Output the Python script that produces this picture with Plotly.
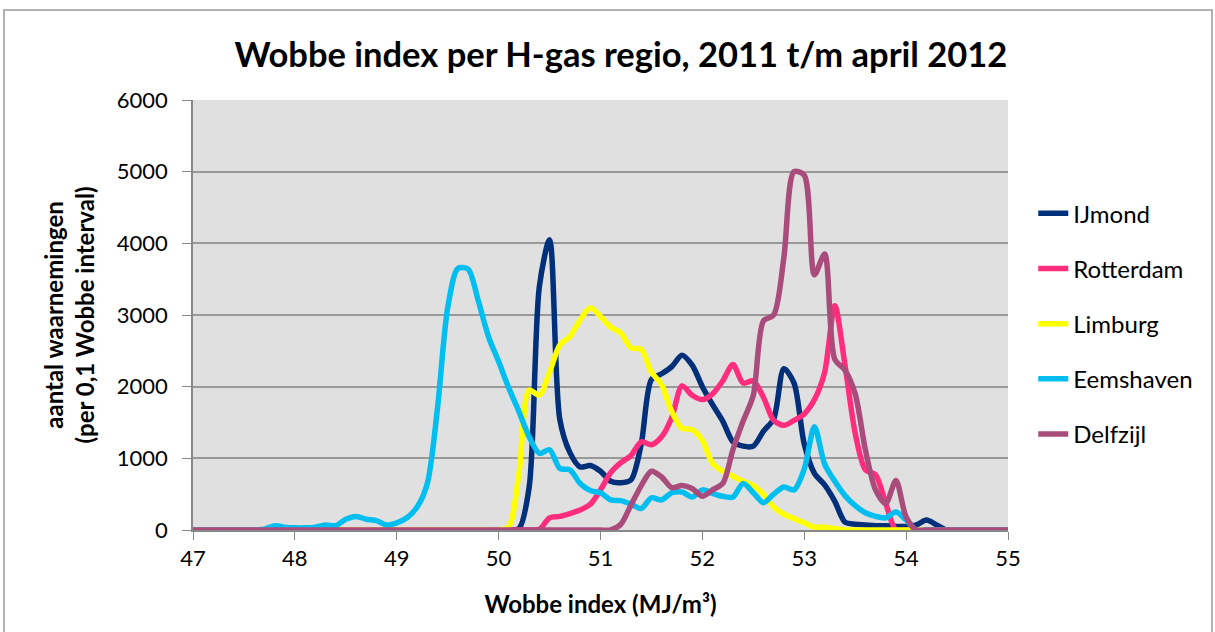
import plotly.graph_objects as go

x_wobbe = [round(47 + 0.1 * i, 1) for i in range(81)]

def series(points):
    d = dict(points)
    return [d.get(x, 0) for x in x_wobbe]

ijmond = series([
    (50.2, 20), (50.3, 600), (50.4, 3400), (50.5, 4050), (50.6, 1550), (50.7, 1080),
    (50.8, 880), (50.9, 900), (51.0, 820), (51.1, 680), (51.2, 660), (51.3, 700),
    (51.4, 1200), (51.5, 2100), (51.6, 2180), (51.7, 2280), (51.8, 2440), (51.9, 2300),
    (52.0, 2000), (52.1, 1750), (52.2, 1520), (52.3, 1230), (52.4, 1170), (52.5, 1170),
    (52.6, 1380), (52.7, 1550), (52.8, 2250), (52.9, 2050), (53.0, 1200), (53.1, 790),
    (53.2, 630), (53.3, 400), (53.4, 110), (53.5, 80), (53.6, 70), (53.7, 60),
    (53.8, 60), (53.9, 50), (54.0, 50), (54.1, 70), (54.2, 140), (54.3, 70),
])

rotterdam = series([
    (50.4, 10), (50.5, 170), (50.6, 190), (50.7, 230), (50.8, 280), (50.9, 360),
    (51.0, 560), (51.1, 800), (51.2, 940), (51.3, 1040), (51.4, 1230), (51.5, 1190),
    (51.6, 1300), (51.7, 1570), (51.8, 2010), (51.9, 1880), (52.0, 1820), (52.1, 1900),
    (52.2, 2080), (52.3, 2310), (52.4, 2050), (52.5, 2080), (52.6, 1850), (52.7, 1530),
    (52.8, 1460), (52.9, 1530), (53.0, 1620), (53.1, 1820), (53.2, 2200), (53.3, 3130),
    (53.4, 2300), (53.5, 1350), (53.6, 840), (53.7, 770), (53.8, 370),
])

limburg = series([
    (50.1, 50), (50.2, 800), (50.3, 1950), (50.4, 1880), (50.5, 2200), (50.6, 2580),
    (50.7, 2700), (50.8, 2930), (50.9, 3100), (51.0, 2980), (51.1, 2830), (51.2, 2750),
    (51.3, 2540), (51.4, 2520), (51.5, 2200), (51.6, 2030), (51.7, 1650), (51.8, 1420),
    (51.9, 1400), (52.0, 1250), (52.1, 930), (52.2, 820), (52.3, 750), (52.4, 680),
    (52.5, 620), (52.6, 500), (52.7, 320), (52.8, 220), (52.9, 160), (53.0, 100),
    (53.1, 40), (53.2, 40), (53.3, 20),
])

eemshaven = series([
    (47.7, 10), (47.8, 60), (47.9, 40), (48.0, 30), (48.1, 30), (48.2, 40),
    (48.3, 70), (48.4, 60), (48.5, 150), (48.6, 190), (48.7, 150), (48.8, 130),
    (48.9, 70), (49.0, 100), (49.1, 170), (49.2, 320), (49.3, 650), (49.4, 1700),
    (49.5, 3100), (49.6, 3650), (49.7, 3640), (49.8, 3200), (49.9, 2700), (50.0, 2350),
    (50.1, 1980), (50.2, 1650), (50.3, 1300), (50.4, 1070), (50.5, 1120), (50.6, 860),
    (50.7, 840), (50.8, 650), (50.9, 550), (51.0, 520), (51.1, 420), (51.2, 410),
    (51.3, 360), (51.4, 300), (51.5, 450), (51.6, 420), (51.7, 520), (51.8, 530),
    (51.9, 460), (52.0, 560), (52.1, 510), (52.2, 470), (52.3, 460), (52.4, 650),
    (52.5, 520), (52.6, 380), (52.7, 500), (52.8, 600), (52.9, 560), (53.0, 850),
    (53.1, 1440), (53.2, 920), (53.3, 680), (53.4, 480), (53.5, 340), (53.6, 240),
    (53.7, 190), (53.8, 170), (53.9, 250), (54.0, 140),
])

delfzijl = series([
    (51.2, 80), (51.3, 350), (51.4, 620), (51.5, 820), (51.6, 740), (51.7, 590),
    (51.8, 620), (51.9, 580), (52.0, 470), (52.1, 560), (52.2, 650), (52.3, 1120),
    (52.4, 1520), (52.5, 1880), (52.6, 2920), (52.7, 3000), (52.8, 3800), (52.9, 5000),
    (53.0, 4950), (53.1, 3560), (53.2, 3850), (53.3, 2380), (53.4, 2230), (53.5, 1900),
    (53.6, 1120), (53.7, 560), (53.8, 370), (53.9, 690), (54.0, 180),
])

names = ["IJmond", "Rotterdam", "Limburg", "Eemshaven", "Delfzijl"]
values = [ijmond, rotterdam, limburg, eemshaven, delfzijl]
colors = ["#00307a", "#ff2d7b", "#ffff00", "#00bff0", "#a94c7c"]

x_ticks = [47, 48, 49, 50, 51, 52, 53, 54, 55]
y_ticks = [0, 1000, 2000, 3000, 4000, 5000, 6000]

fig = go.Figure()
for name, vals, col in zip(names, values, colors):
    fig.add_trace(go.Scatter(
        x=x_wobbe, y=vals, name=name, mode="lines", legendgroup=name,
        line=dict(color=col, width=5.5, shape="spline", smoothing=0.8),
    ))

font = "Lato, 'Open Sans', sans-serif"
fig.update_layout(
    width=1215, height=632,
    margin=dict(l=193, r=207, t=100, b=102),
    paper_bgcolor="white", plot_bgcolor="#e0e0e0",
    font=dict(family=font, color="black", size=22),
    title=dict(text="<b>Wobbe index per H-gas regio, 2011 t/m april 2012</b>",
               x=0.511, xanchor="center", y=0.913, yanchor="middle",
               font=dict(size=34.5, family=font, color="black")),
    legend=dict(x=1.031, xanchor="left", y=0.788, yanchor="top",
                tracegroupgap=21, font=dict(size=24, family=font),
                bgcolor="rgba(0,0,0,0)"),
    showlegend=True,
    xaxis=dict(range=[47, 55], tickvals=x_ticks, ticks="outside", ticklen=8,
               tickcolor="#888", showline=True, linecolor="#888", linewidth=1.5,
               showgrid=False, zeroline=False, tickfont=dict(size=22),
               title=dict(text="<b>Wobbe index (MJ/m³)</b>", font=dict(size=24), standoff=26)),
    yaxis=dict(range=[0, 6000], tickvals=y_ticks, ticks="outside", ticklen=9,
               tickcolor="#888", showline=True, linecolor="#888", linewidth=1.5,
               showgrid=True, gridcolor="#999", gridwidth=2, zeroline=False,
               tickfont=dict(size=22), ticklabelstandoff=10,
               title=dict(text="<b>aantal waarnemingen<br>(per 0,1 Wobbe interval)</b>",
                          font=dict(size=24), standoff=15)),
)

fig.add_shape(type="rect", xref="paper", yref="paper",
              x0=-0.2319, x1=1.2503, y0=-0.25, y1=1.2093,
              line=dict(color="#999", width=1.5), fillcolor="rgba(0,0,0,0)", layer="below")

fig.write_html("out.html", config={"displayModeBar": False},
               post_script="document.body.style.margin='0px';")
